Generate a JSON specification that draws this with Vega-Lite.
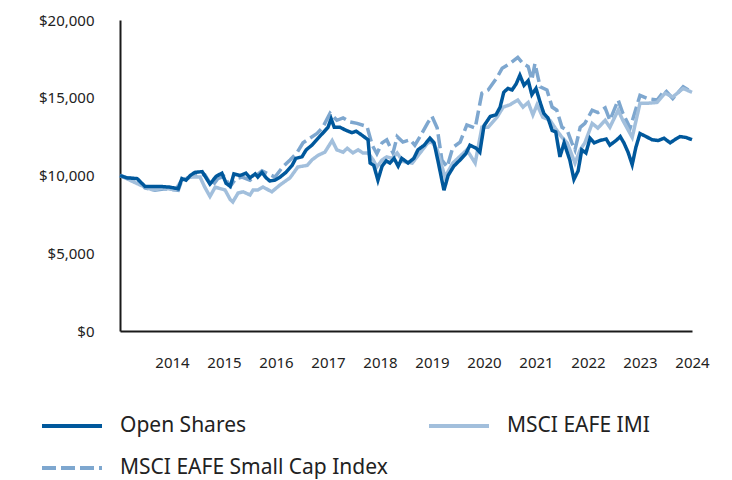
{
  "$schema": "https://vega.github.io/schema/vega-lite/v6.json",
  "autosize": "none",
  "width": 572,
  "height": 311,
  "padding": {"left": 120, "top": 20, "right": 40, "bottom": 149},
  "background": "white",
  "config": {"view": {"stroke": null}, "font": "Noto Sans"},
  "data": {"values": [
    {"series":"MSCI EAFE Small Cap Index","t":2013.00,"v":10000},{"series":"MSCI EAFE Small Cap Index","t":2013.13,"v":9850},{"series":"MSCI EAFE Small Cap Index","t":2013.33,"v":9750},{"series":"MSCI EAFE Small Cap Index","t":2013.48,"v":9200},{"series":"MSCI EAFE Small Cap Index","t":2013.67,"v":9050},{"series":"MSCI EAFE Small Cap Index","t":2013.87,"v":9150},{"series":"MSCI EAFE Small Cap Index","t":2014.12,"v":9050},{"series":"MSCI EAFE Small Cap Index","t":2014.19,"v":9700},{"series":"MSCI EAFE Small Cap Index","t":2014.35,"v":9900},{"series":"MSCI EAFE Small Cap Index","t":2014.50,"v":10100},{"series":"MSCI EAFE Small Cap Index","t":2014.63,"v":10050},{"series":"MSCI EAFE Small Cap Index","t":2014.77,"v":9300},{"series":"MSCI EAFE Small Cap Index","t":2014.88,"v":9800},{"series":"MSCI EAFE Small Cap Index","t":2015.00,"v":9950},{"series":"MSCI EAFE Small Cap Index","t":2015.12,"v":9300},{"series":"MSCI EAFE Small Cap Index","t":2015.23,"v":9800},{"series":"MSCI EAFE Small Cap Index","t":2015.35,"v":9900},{"series":"MSCI EAFE Small Cap Index","t":2015.50,"v":9700},{"series":"MSCI EAFE Small Cap Index","t":2015.62,"v":10000},{"series":"MSCI EAFE Small Cap Index","t":2015.73,"v":10300},{"series":"MSCI EAFE Small Cap Index","t":2015.85,"v":10100},{"series":"MSCI EAFE Small Cap Index","t":2015.98,"v":9900},{"series":"MSCI EAFE Small Cap Index","t":2016.13,"v":10550},{"series":"MSCI EAFE Small Cap Index","t":2016.27,"v":11000},{"series":"MSCI EAFE Small Cap Index","t":2016.40,"v":11450},{"series":"MSCI EAFE Small Cap Index","t":2016.52,"v":12100},{"series":"MSCI EAFE Small Cap Index","t":2016.65,"v":12400},{"series":"MSCI EAFE Small Cap Index","t":2016.79,"v":12700},{"series":"MSCI EAFE Small Cap Index","t":2016.90,"v":13100},{"series":"MSCI EAFE Small Cap Index","t":2017.04,"v":14000},{"series":"MSCI EAFE Small Cap Index","t":2017.17,"v":13550},{"series":"MSCI EAFE Small Cap Index","t":2017.29,"v":13700},{"series":"MSCI EAFE Small Cap Index","t":2017.42,"v":13450},{"series":"MSCI EAFE Small Cap Index","t":2017.56,"v":13350},{"series":"MSCI EAFE Small Cap Index","t":2017.75,"v":13150},{"series":"MSCI EAFE Small Cap Index","t":2017.85,"v":11950},{"series":"MSCI EAFE Small Cap Index","t":2017.94,"v":11400},{"series":"MSCI EAFE Small Cap Index","t":2018.04,"v":12100},{"series":"MSCI EAFE Small Cap Index","t":2018.13,"v":12300},{"series":"MSCI EAFE Small Cap Index","t":2018.25,"v":11450},{"series":"MSCI EAFE Small Cap Index","t":2018.33,"v":12500},{"series":"MSCI EAFE Small Cap Index","t":2018.44,"v":12150},{"series":"MSCI EAFE Small Cap Index","t":2018.58,"v":12300},{"series":"MSCI EAFE Small Cap Index","t":2018.67,"v":11950},{"series":"MSCI EAFE Small Cap Index","t":2018.77,"v":12500},{"series":"MSCI EAFE Small Cap Index","t":2018.92,"v":13400},{"series":"MSCI EAFE Small Cap Index","t":2019.00,"v":13800},{"series":"MSCI EAFE Small Cap Index","t":2019.10,"v":13050},{"series":"MSCI EAFE Small Cap Index","t":2019.19,"v":11000},{"series":"MSCI EAFE Small Cap Index","t":2019.29,"v":10550},{"series":"MSCI EAFE Small Cap Index","t":2019.40,"v":11800},{"series":"MSCI EAFE Small Cap Index","t":2019.54,"v":12150},{"series":"MSCI EAFE Small Cap Index","t":2019.67,"v":13250},{"series":"MSCI EAFE Small Cap Index","t":2019.83,"v":13050},{"series":"MSCI EAFE Small Cap Index","t":2019.96,"v":15300},{"series":"MSCI EAFE Small Cap Index","t":2020.08,"v":15500},{"series":"MSCI EAFE Small Cap Index","t":2020.25,"v":16300},{"series":"MSCI EAFE Small Cap Index","t":2020.35,"v":16900},{"series":"MSCI EAFE Small Cap Index","t":2020.50,"v":17200},{"series":"MSCI EAFE Small Cap Index","t":2020.65,"v":17600},{"series":"MSCI EAFE Small Cap Index","t":2020.75,"v":17200},{"series":"MSCI EAFE Small Cap Index","t":2020.85,"v":17000},{"series":"MSCI EAFE Small Cap Index","t":2020.92,"v":16150},{"series":"MSCI EAFE Small Cap Index","t":2020.98,"v":17200},{"series":"MSCI EAFE Small Cap Index","t":2021.08,"v":15700},{"series":"MSCI EAFE Small Cap Index","t":2021.21,"v":15500},{"series":"MSCI EAFE Small Cap Index","t":2021.31,"v":14400},{"series":"MSCI EAFE Small Cap Index","t":2021.40,"v":14200},{"series":"MSCI EAFE Small Cap Index","t":2021.50,"v":13100},{"series":"MSCI EAFE Small Cap Index","t":2021.60,"v":12900},{"series":"MSCI EAFE Small Cap Index","t":2021.69,"v":12100},{"series":"MSCI EAFE Small Cap Index","t":2021.75,"v":11650},{"series":"MSCI EAFE Small Cap Index","t":2021.85,"v":13100},{"series":"MSCI EAFE Small Cap Index","t":2021.94,"v":13350},{"series":"MSCI EAFE Small Cap Index","t":2022.08,"v":14200},{"series":"MSCI EAFE Small Cap Index","t":2022.19,"v":14050},{"series":"MSCI EAFE Small Cap Index","t":2022.33,"v":14350},{"series":"MSCI EAFE Small Cap Index","t":2022.42,"v":13550},{"series":"MSCI EAFE Small Cap Index","t":2022.58,"v":14850},{"series":"MSCI EAFE Small Cap Index","t":2022.67,"v":14000},{"series":"MSCI EAFE Small Cap Index","t":2022.81,"v":13050},{"series":"MSCI EAFE Small Cap Index","t":2023.00,"v":15150},{"series":"MSCI EAFE Small Cap Index","t":2023.15,"v":14950},{"series":"MSCI EAFE Small Cap Index","t":2023.33,"v":14850},{"series":"MSCI EAFE Small Cap Index","t":2023.48,"v":15500},{"series":"MSCI EAFE Small Cap Index","t":2023.63,"v":14950},{"series":"MSCI EAFE Small Cap Index","t":2023.83,"v":15700},{"series":"MSCI EAFE Small Cap Index","t":2024.00,"v":15350},
    {"series":"MSCI EAFE IMI","t":2013.00,"v":10000},{"series":"MSCI EAFE IMI","t":2013.38,"v":9400},{"series":"MSCI EAFE IMI","t":2013.63,"v":9070},{"series":"MSCI EAFE IMI","t":2013.83,"v":9200},{"series":"MSCI EAFE IMI","t":2014.06,"v":9070},{"series":"MSCI EAFE IMI","t":2014.19,"v":9700},{"series":"MSCI EAFE IMI","t":2014.35,"v":9900},{"series":"MSCI EAFE IMI","t":2014.54,"v":9900},{"series":"MSCI EAFE IMI","t":2014.63,"v":9250},{"series":"MSCI EAFE IMI","t":2014.73,"v":8650},{"series":"MSCI EAFE IMI","t":2014.83,"v":9250},{"series":"MSCI EAFE IMI","t":2015.02,"v":9070},{"series":"MSCI EAFE IMI","t":2015.12,"v":8450},{"series":"MSCI EAFE IMI","t":2015.17,"v":8300},{"series":"MSCI EAFE IMI","t":2015.27,"v":8870},{"series":"MSCI EAFE IMI","t":2015.37,"v":8950},{"series":"MSCI EAFE IMI","t":2015.50,"v":8750},{"series":"MSCI EAFE IMI","t":2015.56,"v":9070},{"series":"MSCI EAFE IMI","t":2015.65,"v":9070},{"series":"MSCI EAFE IMI","t":2015.75,"v":9260},{"series":"MSCI EAFE IMI","t":2015.92,"v":8950},{"series":"MSCI EAFE IMI","t":2016.08,"v":9400},{"series":"MSCI EAFE IMI","t":2016.27,"v":9850},{"series":"MSCI EAFE IMI","t":2016.42,"v":10550},{"series":"MSCI EAFE IMI","t":2016.60,"v":10650},{"series":"MSCI EAFE IMI","t":2016.69,"v":11000},{"series":"MSCI EAFE IMI","t":2016.81,"v":11300},{"series":"MSCI EAFE IMI","t":2016.94,"v":11500},{"series":"MSCI EAFE IMI","t":2017.08,"v":12250},{"series":"MSCI EAFE IMI","t":2017.17,"v":11650},{"series":"MSCI EAFE IMI","t":2017.29,"v":11500},{"series":"MSCI EAFE IMI","t":2017.37,"v":11750},{"series":"MSCI EAFE IMI","t":2017.48,"v":11450},{"series":"MSCI EAFE IMI","t":2017.58,"v":11650},{"series":"MSCI EAFE IMI","t":2017.67,"v":11450},{"series":"MSCI EAFE IMI","t":2017.77,"v":11450},{"series":"MSCI EAFE IMI","t":2017.87,"v":11000},{"series":"MSCI EAFE IMI","t":2017.94,"v":10550},{"series":"MSCI EAFE IMI","t":2018.04,"v":11000},{"series":"MSCI EAFE IMI","t":2018.13,"v":11200},{"series":"MSCI EAFE IMI","t":2018.23,"v":11100},{"series":"MSCI EAFE IMI","t":2018.33,"v":11450},{"series":"MSCI EAFE IMI","t":2018.44,"v":10900},{"series":"MSCI EAFE IMI","t":2018.62,"v":10800},{"series":"MSCI EAFE IMI","t":2018.77,"v":11450},{"series":"MSCI EAFE IMI","t":2018.92,"v":12100},{"series":"MSCI EAFE IMI","t":2019.00,"v":12150},{"series":"MSCI EAFE IMI","t":2019.10,"v":11650},{"series":"MSCI EAFE IMI","t":2019.25,"v":9900},{"series":"MSCI EAFE IMI","t":2019.40,"v":10800},{"series":"MSCI EAFE IMI","t":2019.67,"v":11650},{"series":"MSCI EAFE IMI","t":2019.83,"v":10800},{"series":"MSCI EAFE IMI","t":2019.96,"v":13100},{"series":"MSCI EAFE IMI","t":2020.08,"v":13100},{"series":"MSCI EAFE IMI","t":2020.25,"v":13750},{"series":"MSCI EAFE IMI","t":2020.37,"v":14400},{"series":"MSCI EAFE IMI","t":2020.50,"v":14550},{"series":"MSCI EAFE IMI","t":2020.65,"v":14850},{"series":"MSCI EAFE IMI","t":2020.75,"v":14400},{"series":"MSCI EAFE IMI","t":2020.85,"v":14700},{"series":"MSCI EAFE IMI","t":2020.94,"v":13900},{"series":"MSCI EAFE IMI","t":2021.02,"v":14550},{"series":"MSCI EAFE IMI","t":2021.13,"v":13750},{"series":"MSCI EAFE IMI","t":2021.27,"v":13550},{"series":"MSCI EAFE IMI","t":2021.40,"v":12900},{"series":"MSCI EAFE IMI","t":2021.50,"v":12450},{"series":"MSCI EAFE IMI","t":2021.60,"v":12100},{"series":"MSCI EAFE IMI","t":2021.75,"v":10800},{"series":"MSCI EAFE IMI","t":2021.85,"v":11650},{"series":"MSCI EAFE IMI","t":2021.94,"v":12100},{"series":"MSCI EAFE IMI","t":2022.08,"v":13350},{"series":"MSCI EAFE IMI","t":2022.19,"v":13050},{"series":"MSCI EAFE IMI","t":2022.33,"v":13550},{"series":"MSCI EAFE IMI","t":2022.42,"v":13100},{"series":"MSCI EAFE IMI","t":2022.58,"v":14200},{"series":"MSCI EAFE IMI","t":2022.67,"v":13550},{"series":"MSCI EAFE IMI","t":2022.85,"v":12450},{"series":"MSCI EAFE IMI","t":2023.00,"v":14650},{"series":"MSCI EAFE IMI","t":2023.15,"v":14650},{"series":"MSCI EAFE IMI","t":2023.33,"v":14700},{"series":"MSCI EAFE IMI","t":2023.48,"v":15300},{"series":"MSCI EAFE IMI","t":2023.63,"v":15050},{"series":"MSCI EAFE IMI","t":2023.83,"v":15600},{"series":"MSCI EAFE IMI","t":2024.00,"v":15350},
    {"series":"Open Shares","t":2013.00,"v":10000},{"series":"Open Shares","t":2013.13,"v":9850},{"series":"Open Shares","t":2013.33,"v":9800},{"series":"Open Shares","t":2013.48,"v":9300},{"series":"Open Shares","t":2013.77,"v":9300},{"series":"Open Shares","t":2013.96,"v":9250},{"series":"Open Shares","t":2014.12,"v":9150},{"series":"Open Shares","t":2014.19,"v":9800},{"series":"Open Shares","t":2014.27,"v":9700},{"series":"Open Shares","t":2014.35,"v":10000},{"series":"Open Shares","t":2014.44,"v":10200},{"series":"Open Shares","t":2014.58,"v":10250},{"series":"Open Shares","t":2014.73,"v":9450},{"series":"Open Shares","t":2014.85,"v":9950},{"series":"Open Shares","t":2014.96,"v":10150},{"series":"Open Shares","t":2015.04,"v":9500},{"series":"Open Shares","t":2015.12,"v":9300},{"series":"Open Shares","t":2015.19,"v":10100},{"series":"Open Shares","t":2015.31,"v":10000},{"series":"Open Shares","t":2015.42,"v":10150},{"series":"Open Shares","t":2015.50,"v":9850},{"series":"Open Shares","t":2015.60,"v":10100},{"series":"Open Shares","t":2015.65,"v":9900},{"series":"Open Shares","t":2015.73,"v":10200},{"series":"Open Shares","t":2015.81,"v":9850},{"series":"Open Shares","t":2015.88,"v":9650},{"series":"Open Shares","t":2015.98,"v":9700},{"series":"Open Shares","t":2016.08,"v":9900},{"series":"Open Shares","t":2016.19,"v":10200},{"series":"Open Shares","t":2016.31,"v":10650},{"series":"Open Shares","t":2016.38,"v":11100},{"series":"Open Shares","t":2016.50,"v":11200},{"series":"Open Shares","t":2016.58,"v":11650},{"series":"Open Shares","t":2016.69,"v":11950},{"series":"Open Shares","t":2016.81,"v":12400},{"series":"Open Shares","t":2016.92,"v":12800},{"series":"Open Shares","t":2017.00,"v":13100},{"series":"Open Shares","t":2017.06,"v":13650},{"series":"Open Shares","t":2017.12,"v":13100},{"series":"Open Shares","t":2017.23,"v":13100},{"series":"Open Shares","t":2017.35,"v":12900},{"series":"Open Shares","t":2017.46,"v":12750},{"series":"Open Shares","t":2017.54,"v":12850},{"series":"Open Shares","t":2017.65,"v":12600},{"series":"Open Shares","t":2017.77,"v":12300},{"series":"Open Shares","t":2017.81,"v":10800},{"series":"Open Shares","t":2017.88,"v":10650},{"series":"Open Shares","t":2017.96,"v":9700},{"series":"Open Shares","t":2018.04,"v":10600},{"series":"Open Shares","t":2018.12,"v":10950},{"series":"Open Shares","t":2018.19,"v":10800},{"series":"Open Shares","t":2018.27,"v":11100},{"series":"Open Shares","t":2018.35,"v":10600},{"series":"Open Shares","t":2018.42,"v":11100},{"series":"Open Shares","t":2018.54,"v":10800},{"series":"Open Shares","t":2018.65,"v":11100},{"series":"Open Shares","t":2018.73,"v":11650},{"series":"Open Shares","t":2018.85,"v":11950},{"series":"Open Shares","t":2018.96,"v":12400},{"series":"Open Shares","t":2019.04,"v":12100},{"series":"Open Shares","t":2019.12,"v":10850},{"series":"Open Shares","t":2019.23,"v":9050},{"series":"Open Shares","t":2019.31,"v":10000},{"series":"Open Shares","t":2019.42,"v":10600},{"series":"Open Shares","t":2019.54,"v":11000},{"series":"Open Shares","t":2019.65,"v":11400},{"series":"Open Shares","t":2019.73,"v":11950},{"series":"Open Shares","t":2019.85,"v":11750},{"series":"Open Shares","t":2019.92,"v":11500},{"series":"Open Shares","t":2020.00,"v":13200},{"series":"Open Shares","t":2020.12,"v":13800},{"series":"Open Shares","t":2020.23,"v":13900},{"series":"Open Shares","t":2020.31,"v":14400},{"series":"Open Shares","t":2020.38,"v":15350},{"series":"Open Shares","t":2020.46,"v":15600},{"series":"Open Shares","t":2020.54,"v":15500},{"series":"Open Shares","t":2020.62,"v":15900},{"series":"Open Shares","t":2020.69,"v":16450},{"series":"Open Shares","t":2020.77,"v":15800},{"series":"Open Shares","t":2020.85,"v":16100},{"series":"Open Shares","t":2020.92,"v":15200},{"series":"Open Shares","t":2021.00,"v":15600},{"series":"Open Shares","t":2021.08,"v":14700},{"series":"Open Shares","t":2021.15,"v":14000},{"series":"Open Shares","t":2021.23,"v":13700},{"series":"Open Shares","t":2021.31,"v":12900},{"series":"Open Shares","t":2021.38,"v":12800},{"series":"Open Shares","t":2021.46,"v":11200},{"series":"Open Shares","t":2021.54,"v":12100},{"series":"Open Shares","t":2021.65,"v":11000},{"series":"Open Shares","t":2021.73,"v":9750},{"series":"Open Shares","t":2021.81,"v":10300},{"series":"Open Shares","t":2021.88,"v":11650},{"series":"Open Shares","t":2021.96,"v":11450},{"series":"Open Shares","t":2022.04,"v":12400},{"series":"Open Shares","t":2022.12,"v":12100},{"series":"Open Shares","t":2022.23,"v":12250},{"series":"Open Shares","t":2022.35,"v":12350},{"series":"Open Shares","t":2022.42,"v":11950},{"series":"Open Shares","t":2022.54,"v":12250},{"series":"Open Shares","t":2022.62,"v":12500},{"series":"Open Shares","t":2022.69,"v":12100},{"series":"Open Shares","t":2022.77,"v":11500},{"series":"Open Shares","t":2022.85,"v":10700},{"series":"Open Shares","t":2022.92,"v":11800},{"series":"Open Shares","t":2023.00,"v":12700},{"series":"Open Shares","t":2023.12,"v":12500},{"series":"Open Shares","t":2023.23,"v":12300},{"series":"Open Shares","t":2023.35,"v":12250},{"series":"Open Shares","t":2023.46,"v":12400},{"series":"Open Shares","t":2023.58,"v":12100},{"series":"Open Shares","t":2023.69,"v":12350},{"series":"Open Shares","t":2023.77,"v":12500},{"series":"Open Shares","t":2023.88,"v":12450},{"series":"Open Shares","t":2024.00,"v":12300}
  ]},
  "mark": {"type": "line", "strokeWidth": 3.5},
  "encoding": {
    "x": {
      "field": "t", "type": "quantitative",
      "scale": {"domain": [2013, 2024], "nice": false, "zero": false},
      "axis": {"title": null, "values": [2014,2015,2016,2017,2018,2019,2020,2021,2022,2023,2024], "format": "d", "grid": false, "ticks": false, "labelFlush": false, "labelOverlap": false, "domainColor": "#1a1a1a", "domainWidth": 2, "labelPadding": 24, "labelFontSize": 15, "labelColor": "#222", "labelFont": "Noto Sans"}
    },
    "y": {
      "field": "v", "type": "quantitative",
      "scale": {"domain": [0, 20000], "nice": false},
      "axis": {"title": null, "values": [0,5000,10000,15000,20000], "format": "$,.0f", "grid": false, "ticks": false, "domainColor": "#1a1a1a", "domainWidth": 2, "labelPadding": 26, "labelFontSize": 15, "labelColor": "#222", "labelFont": "Noto Sans"}
    },
    "color": {
      "field": "series", "type": "nominal",
      "scale": {"domain": ["Open Shares", "MSCI EAFE IMI", "MSCI EAFE Small Cap Index"], "range": ["#00589c", "#a2bfdc", "#7ea7cf"]},
      "legend": {
        "title": null, "orient": "none", "legendX": -80, "legendY": 374, "direction": "horizontal", "columns": 2, "gridAlign": "all", "labelLimit": 400,
        "symbolType": "stroke", "symbolSize": 3600, "symbolStrokeWidth": 4, "labelFontSize": 21, "labelFont": "Noto Sans", "labelColor": "#222", "labelOffset": 16, "columnPadding": 33, "rowPadding": -22
      }
    },
    "strokeDash": {
      "field": "series", "type": "nominal",
      "scale": {"domain": ["Open Shares", "MSCI EAFE IMI", "MSCI EAFE Small Cap Index"], "range": [[1, 0], [1, 0], [14, 5]]},
      "legend": {
        "title": null, "orient": "none", "legendX": -80, "legendY": 374, "direction": "horizontal", "columns": 2, "gridAlign": "all", "labelLimit": 400,
        "symbolType": "stroke", "symbolSize": 3600, "symbolStrokeWidth": 4, "labelFontSize": 21, "labelFont": "Noto Sans", "labelColor": "#222", "labelOffset": 16, "columnPadding": 33, "rowPadding": -22
      }
    }
  }
}
